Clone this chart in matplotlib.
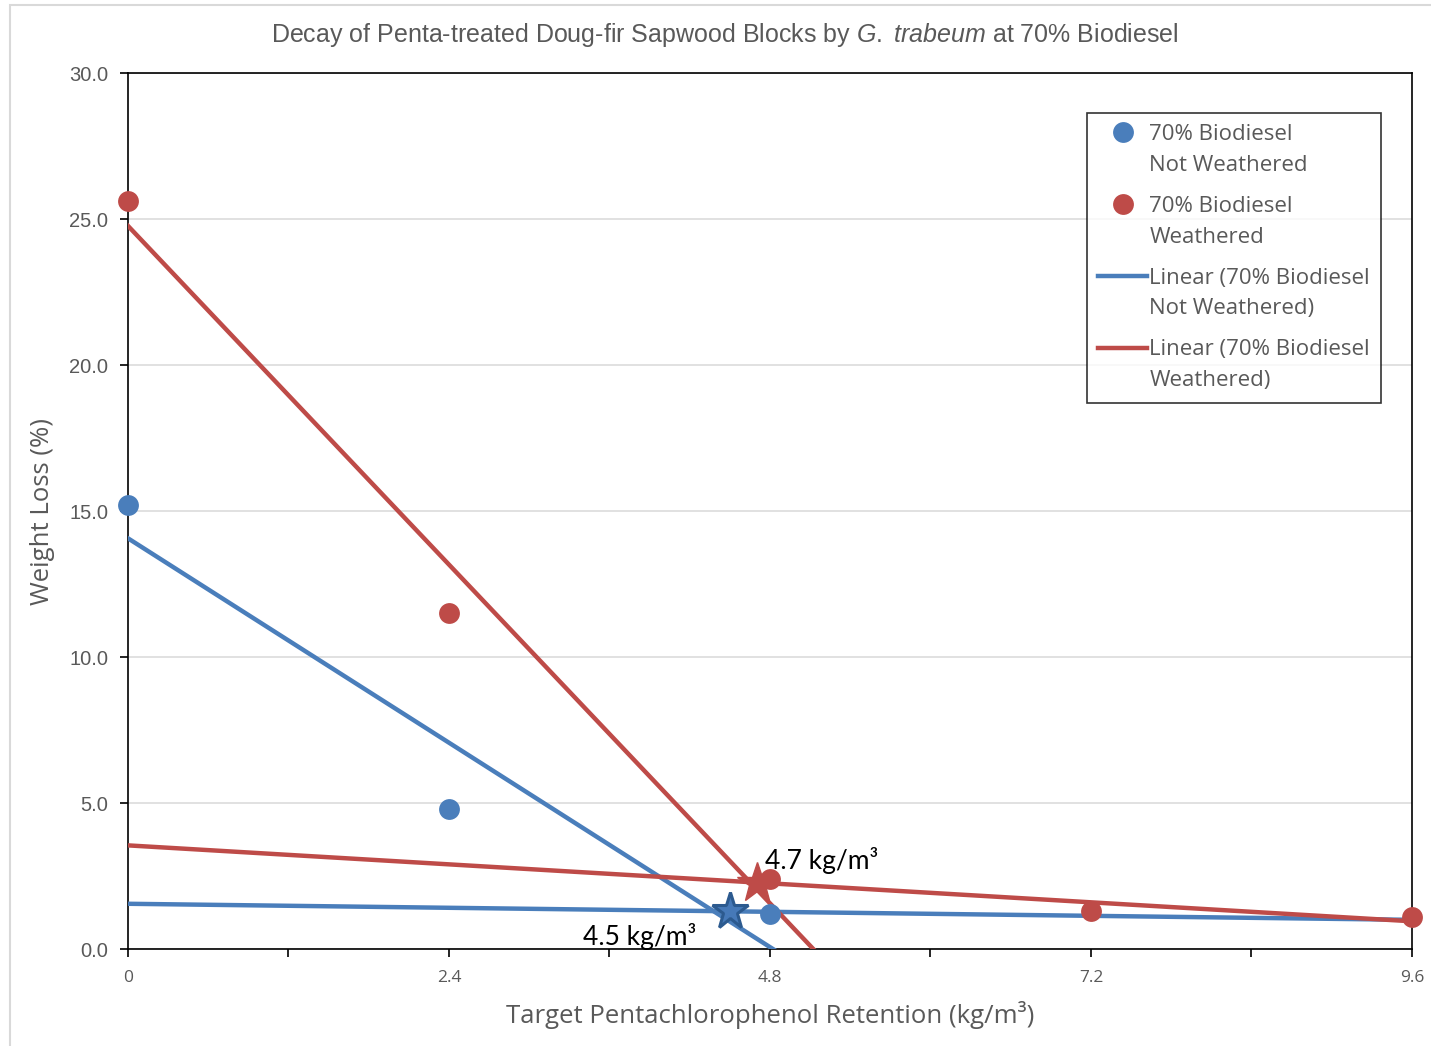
import numpy as np
import matplotlib.pyplot as plt
from matplotlib.lines import Line2D
from matplotlib.patches import Rectangle
from matplotlib.legend_handler import HandlerLine2D

# Target retention (kg/m3) and measured weight loss (%)
retention = [0.0, 2.4, 4.8, 7.2, 9.6]
loss_not_weathered = [15.2, 4.8, 1.2]
loss_weathered = [25.6, 11.5, 2.4, 1.3, 1.1]

# Low-retention trend of the not-weathered blocks, at x = 0 and 9.6
flat_not_weathered = [1.55, 1.0]

# Threshold retentions marked on the plot
threshold_not_weathered = 4.5
threshold_weathered = 4.7

BLUE = "#4A7EBB"
RED = "#BE4B48"
DARK_BLUE = "#2C5A8F"
GREY_TEXT = "#595959"

plt.rcParams["font.family"] = ["Liberation Sans", "DejaVu Sans"]
plt.rcParams["mathtext.fontset"] = "custom"
plt.rcParams["mathtext.rm"] = "Liberation Sans"
plt.rcParams["mathtext.it"] = "Liberation Sans:italic"


class TopLineHandler(HandlerLine2D):
    """Put the legend key next to the first line of a two-line label."""

    def __init__(self, shift, **kw):
        super().__init__(**kw)
        self.shift = shift

    def create_artists(self, legend, orig_handle, xdescent, ydescent,
                       width, height, fontsize, trans):
        arts = super().create_artists(legend, orig_handle, xdescent, ydescent,
                                      width, height, fontsize, trans)
        for a in arts:
            a.set_ydata(np.asarray(a.get_ydata()) + self.shift)
        return arts


fig = plt.figure(figsize=(14.31, 10.46), dpi=100)
ax = fig.add_axes([0.0894, 0.0927, 0.8973, 0.8375])

x = np.array(retention)
xs = np.linspace(0, 9.6, 200)

# Linear fits: steep part over 0-4.8, flat part over 4.8-9.6
b_steep = np.polyfit(x[:3], loss_not_weathered[:3], 1)
r_steep = np.polyfit(x[:3], loss_weathered[:3], 1)
r_flat = np.polyfit(x[2:], loss_weathered[2:], 1)
b_flat = np.polyfit([0.0, 9.6], flat_not_weathered, 1)

lw = 3.2
ax.plot(xs, np.polyval(b_steep, xs), color=BLUE, lw=lw, zorder=3)
ax.plot(xs, np.polyval(b_flat, xs), color=BLUE, lw=lw, zorder=3)
ax.plot(xs, np.polyval(r_steep, xs), color=RED, lw=lw, zorder=3)
ax.plot(xs, np.polyval(r_flat, xs), color=RED, lw=lw, zorder=3)

ax.plot(x[:3], loss_not_weathered, "o", color=BLUE, ms=15, mec="none", zorder=4, clip_on=False)
ax.plot(x, loss_weathered, "o", color=RED, ms=15, mec="none", zorder=4, clip_on=False)

# Threshold stars on the flat trend lines
yb = np.polyval(b_flat, threshold_not_weathered)
yr = np.polyval(r_flat, threshold_weathered)
ax.plot(threshold_not_weathered, yb, "*", ms=28, color="#4679B8", mec=DARK_BLUE, mew=2.2, zorder=5)
ax.plot(threshold_weathered, yr, "*", ms=30, color=RED, mec=RED, zorder=5)
ax.text(threshold_weathered + 0.06, yr + 0.3, "4.7 kg/m³", fontsize=19,
        family=["Lato", "DejaVu Sans"], color="black", va="bottom", ha="left", zorder=6)
ax.text(threshold_not_weathered - 0.25, yb - 0.4, "4.5 kg/m³", fontsize=19,
        family=["Lato", "DejaVu Sans"], color="black", va="top", ha="right", zorder=6)

ax.set_xlim(0, 9.6)
ax.set_ylim(0, 30)
ax.set_xticks([0, 2.4, 4.8, 7.2, 9.6])
ax.set_xticklabels(["0", "2.4", "4.8", "7.2", "9.6"],
                   family=["Open Sans", "DejaVu Sans"], fontsize=12.5)
ax.set_xticks([1.2, 3.6, 6.0, 8.4], minor=True)
ax.set_yticks(np.arange(0, 31, 5))
ax.set_yticklabels([f"{v:.1f}" for v in np.arange(0, 31, 5)], fontsize=14.5)
ax.tick_params(axis="both", which="both", direction="out", length=6, width=1.2,
               color="black", labelcolor=GREY_TEXT)
ax.tick_params(axis="x", pad=9)
ax.tick_params(axis="y", pad=8)
ax.grid(axis="y", color="#D9D9D9", lw=1.1, zorder=0)
ax.set_axisbelow(True)
for s in ax.spines.values():
    s.set_color("black")
    s.set_linewidth(1.2)

ax.set_xlabel("Target Pentachlorophenol Retention (kg/m³)", fontsize=18.5,
              family=["Open Sans", "DejaVu Sans"], color=GREY_TEXT, labelpad=11)
ax.set_ylabel("Weight Loss (%)", fontsize=18.5, family=["Open Sans", "DejaVu Sans"],
              color=GREY_TEXT, labelpad=10)
fig.text(725 / 1431, 1 - 35 / 1046,
         "Decay of Penta-treated Doug-fir Sapwood Blocks by $\\it{G.}$ $\\it{trabeum}$ at 70% Biodiesel",
         fontsize=18, color=GREY_TEXT, ha="center", va="center")

handles = [
    Line2D([], [], ls="none", marker="o", ms=15, color=BLUE, mec="none"),
    Line2D([], [], ls="none", marker="o", ms=15, color=RED, mec="none"),
    Line2D([], [], color=BLUE, lw=lw),
    Line2D([], [], color=RED, lw=lw),
]
labels = [
    "70% Biodiesel\nNot Weathered",
    "70% Biodiesel\nWeathered",
    "Linear (70% Biodiesel\nNot Weathered)",
    "Linear (70% Biodiesel\nWeathered)",
]
key_shift = 12.8
leg = ax.legend(handles, labels, loc="upper right", bbox_to_anchor=(0.9759, 0.9548),
                handler_map={h: TopLineHandler(key_shift) for h in handles},
                prop={"family": ["Open Sans", "DejaVu Sans"], "size": 16},
                labelcolor=GREY_TEXT, frameon=True, fancybox=False, edgecolor="black",
                handlelength=2.2, handletextpad=0.1, labelspacing=0.9,
                borderpad=0.5, borderaxespad=0)
leg.get_frame().set_linewidth(1.2)
for t in leg.get_texts():
    t.set_linespacing(1.62)

# Light frame around the whole chart area
fig.patches.append(Rectangle((10 / 1431, -0.01), 1.02, 1 - 5 / 1046 + 0.01,
                             transform=fig.transFigure, fill=False,
                             edgecolor="#D9D9D9", lw=1.5))

fig.savefig("out.png", dpi=100)
